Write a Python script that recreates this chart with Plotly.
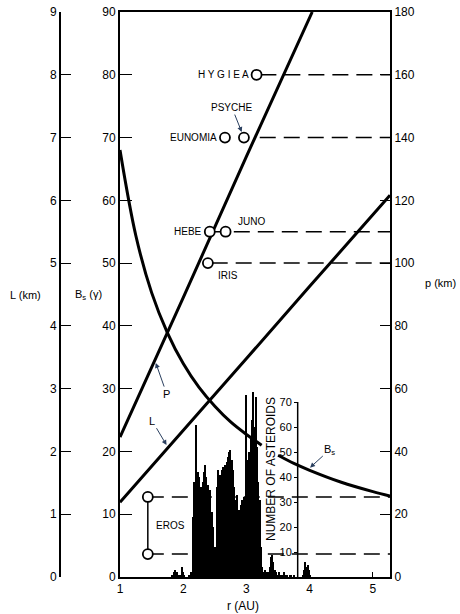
import plotly.graph_objects as go

# ---------------- data ----------------
r_P = [1.0, 2.0, 3.0, 4.04]
p_P = [44.6, 89.0, 134.0, 180.0]

r_L = [1.0, 2.0, 3.0, 4.0, 5.27]
L_vals = [1.19, 2.33, 3.48, 4.63, 6.08]

r_Bs = [1.0, 1.25, 1.5, 1.75, 2.0, 2.25, 2.5, 2.75, 3.0, 3.24, None, 3.5, 3.75, 4.0, 4.5, 5.0, 5.27]
Bs_vals = [68, 54.4, 45.3, 38.9, 34.0, 30.2, 27.2, 24.7, 22.7, 21.0, None, 19.4, 18.1, 17.0, 15.1, 13.6, 12.9]

ast_names = ["HYGIEA", "PSYCHE", "EUNOMIA", "HEBE", "JUNO", "IRIS"]
ast_r = [3.16, 2.96, 2.66, 2.42, 2.67, 2.39]
ast_p = [160, 140, 140, 110, 110, 100]

eros_r = [1.44, 1.44]
eros_p = [25.5, 7.3]

# dashed reference lines (start r, p value) to the right axis
dash_start = [3.22, 3.21, 2.42, 2.45, 1.44, 1.44]
dash_p = [160, 140, 110, 100, 25.5, 7.3]
r_max = 5.27

hist_r = [1.81, 1.83, 1.85, 1.87, 1.89, 1.91, 1.93, 1.95, 1.97, 1.99,
          2.01, 2.03, 2.05, 2.07, 2.09, 2.11, 2.13, 2.15, 2.17, 2.19,
          2.21, 2.23, 2.25, 2.27, 2.29, 2.31, 2.33, 2.35, 2.37, 2.39,
          2.41, 2.43, 2.45, 2.47, 2.49, 2.51, 2.53, 2.55, 2.57, 2.59,
          2.61, 2.63, 2.65, 2.67, 2.69, 2.71, 2.73, 2.75, 2.77, 2.79,
          2.81, 2.83, 2.85, 2.87, 2.89, 2.91, 2.93, 2.95, 2.97, 2.99,
          3.01, 3.03, 3.05, 3.07, 3.09, 3.11, 3.13, 3.15, 3.17, 3.19,
          3.21, 3.23, 3.25, 3.27, 3.29, 3.31, 3.33, 3.35, 3.37, 3.39,
          3.41, 3.43, 3.45, 3.47, 3.49, 3.51, 3.53, 3.55, 3.57, 3.59,
          3.61, 3.63, 3.65, 3.67, 3.69, 3.71, 3.73, 3.75, 3.77, 3.79,
          3.81, 3.83, 3.85, 3.87, 3.89, 3.91, 3.93, 3.95, 3.97, 3.99,
          4.01, 4.03]
hist_n = [0, 1, 2, 3, 2, 2, 1, 0, 1, 4,
          1, 0, 0, 0, 1, 0, 2, 24, 38, 34,
          61, 42, 40, 34, 36, 38, 42, 45, 40, 37,
          33, 35, 26, 20, 8, 12, 36, 43, 38, 41,
          43, 44, 42, 45, 46, 48, 50, 51, 47, 43,
          36, 31, 33, 22, 27, 29, 31, 12, 32, 73,
          47, 44, 50, 56, 63, 74, 60, 72, 52, 38,
          31, 12, 4, 2, 3, 2, 1, 2, 4, 8,
          9, 6, 3, 2, 1, 2, 1, 1, 1, 2,
          1, 1, 1, 0, 1, 1, 0, 1, 0, 0,
          0, 0, 0, 0, 1, 3, 6, 4, 5, 3,
          1, 0]
hist_axis_r = 3.81
hist_ticks = [10, 20, 30, 40, 50, 60, 70]

L_ticks = list(range(0, 10))
Bs_ticks = list(range(0, 100, 10))
p_ticks = list(range(0, 200, 20))
r_ticks = [1, 2, 3, 4, 5]

FONT = "Liberation Sans"
BLACK = "#000000"

fig = go.Figure()

# L line (on L axis)
fig.add_trace(go.Scatter(x=r_L, y=L_vals, mode="lines", yaxis="y2",
                         line=dict(color=BLACK, width=3), showlegend=False, hoverinfo="skip"))
# Bs curve
fig.add_trace(go.Scatter(x=r_Bs, y=Bs_vals, mode="lines", yaxis="y",
                         line=dict(color=BLACK, width=3, shape="spline"),
                         connectgaps=False, showlegend=False, hoverinfo="skip"))
# dashed lines (p axis)
for rs, pv in zip(dash_start, dash_p):
    fig.add_trace(go.Scatter(x=[rs, r_max], y=[pv, pv], mode="lines", yaxis="y3",
                             line=dict(color=BLACK, width=1.5, dash="16px,8px"),
                             showlegend=False, hoverinfo="skip"))
# P line
fig.add_trace(go.Scatter(x=r_P, y=p_P, mode="lines", yaxis="y3",
                         line=dict(color=BLACK, width=3), showlegend=False, hoverinfo="skip"))
# Eros
fig.add_trace(go.Scatter(x=eros_r, y=eros_p, mode="lines+markers", yaxis="y3",
                         line=dict(color=BLACK, width=1.5),
                         marker=dict(symbol="circle", size=10, color="white",
                                     line=dict(color=BLACK, width=1.8)),
                         showlegend=False, hoverinfo="skip"))
# asteroids
fig.add_trace(go.Scatter(x=ast_r, y=ast_p, mode="markers", yaxis="y3",
                         marker=dict(symbol="circle", size=10, color="white",
                                     line=dict(color=BLACK, width=1.8)),
                         showlegend=False, hoverinfo="skip"))
# histogram
fig.add_trace(go.Bar(x=hist_r, y=hist_n, yaxis="y4", width=0.021,
                     marker=dict(color=BLACK, line=dict(width=0)),
                     showlegend=False, hoverinfo="skip"))

tickfont = dict(family=FONT, size=12, color=BLACK)

fig.update_layout(
    width=460, height=614,
    margin=dict(l=60, r=70, t=12, b=37),
    paper_bgcolor="white", plot_bgcolor="white",
    bargap=0,
    xaxis=dict(domain=[60/330, 1], range=[1, 5.27], tickvals=r_ticks,
               ticks="inside", ticklen=5, tickwidth=1.2, tickcolor=BLACK,
               showline=True, linecolor=BLACK, linewidth=2, mirror=True,
               showgrid=False, zeroline=False, tickfont=tickfont, automargin=False),
    yaxis=dict(range=[0, 90], tickvals=Bs_ticks, ticks="inside", ticklen=12,
               tickwidth=1.2, tickcolor=BLACK, showline=True, linecolor=BLACK,
               linewidth=2, showgrid=False, zeroline=False, tickfont=tickfont,
               automargin=False, ticklabeloverflow="allow"),
    yaxis2=dict(range=[0, 9], tickvals=L_ticks, overlaying="y", anchor="free",
                position=0, side="left", ticks="inside", ticklen=10, tickwidth=1.2,
                tickcolor=BLACK, showline=True, linecolor=BLACK, linewidth=2,
                showgrid=False, zeroline=False, tickfont=tickfont, automargin=False,
                ticklabeloverflow="allow"),
    yaxis3=dict(range=[0, 180], tickvals=p_ticks, overlaying="y", anchor="x",
                side="right", ticks="inside", ticklen=10, tickwidth=1.2,
                tickcolor=BLACK, showline=True, linecolor=BLACK, linewidth=2,
                showgrid=False, zeroline=False, tickfont=tickfont, automargin=False,
                ticklabeloverflow="allow"),
    yaxis4=dict(range=[0, 226], tickvals=hist_ticks, overlaying="y", anchor="free",
                position=(298 - 60) / 330, side="left", ticks="outside", ticklen=4,
                tickwidth=1.2, tickcolor=BLACK, showline=False,
                showgrid=False, zeroline=False, automargin=False,
                tickfont=dict(family=FONT, size=11, color=BLACK)),
    shapes=[dict(type="line", xref="x", yref="y4", x0=hist_axis_r, x1=hist_axis_r,
                 y0=0, y1=hist_ticks[-1], line=dict(color=BLACK, width=1.5))],
)

ann_font = dict(family=FONT, size=10, color=BLACK)
ann = []
# asteroid labels
ann.append(dict(x=ast_r[0], y=ast_p[0], xref="x", yref="y3", text="H Y G I E A",
                showarrow=False, xanchor="right", xshift=-6, font=ann_font))
ann.append(dict(x=ast_r[2], y=ast_p[2], xref="x", yref="y3", text="EUNOMIA",
                showarrow=False, xanchor="right", xshift=-6, font=ann_font))
ann.append(dict(x=ast_r[1], y=ast_p[1], xref="x", yref="y3", text="PSYCHE",
                showarrow=True, ax=-12, ay=-30, arrowhead=2, arrowsize=1,
                arrowwidth=1, standoff=6, font=ann_font))
ann.append(dict(x=ast_r[3], y=ast_p[3], xref="x", yref="y3", text="HEBE",
                showarrow=False, xanchor="right", xshift=-6, font=ann_font))
ann.append(dict(x=ast_r[4], y=ast_p[4], xref="x", yref="y3", text="JUNO",
                showarrow=False, xanchor="left", xshift=10, yshift=10, font=ann_font))
ann.append(dict(x=ast_r[5], y=ast_p[5], xref="x", yref="y3", text="IRIS",
                showarrow=False, xanchor="left", xshift=8, yshift=-12, font=ann_font))
ann.append(dict(x=eros_r[0], y=(eros_p[0] + eros_p[1]) / 2, xref="x", yref="y3",
                text="EROS", showarrow=False, xanchor="left", xshift=6, font=ann_font))
# curve labels
ann.append(dict(x=1.55, y=69.1, xref="x", yref="y3", text="P", showarrow=True,
                ax=12, ay=34, arrowhead=2, arrowsize=1, arrowwidth=1, standoff=3,
                font=dict(family=FONT, size=11, color=BLACK)))
ann.append(dict(x=1.76, y=2.06, xref="x", yref="y2", text="L", showarrow=True,
                ax=-16, ay=-27, arrowhead=2, arrowsize=1, arrowwidth=1, standoff=3,
                font=dict(family=FONT, size=11, color=BLACK)))
ann.append(dict(x=3.97, y=17.1, xref="x", yref="y", text="B<sub>s</sub>", showarrow=True,
                ax=22, ay=-20, arrowhead=2, arrowsize=1, arrowwidth=1, standoff=3,
                font=dict(family=FONT, size=11, color=BLACK)))


def px_to_paper(px, py):
    return (px - 120 + 60) / 330, (577 - py) / 565


for text, px, py, size, angle in [
    ("L (km)", 25, 295, 11, 0),
    ("B<sub>s</sub> (γ)", 88, 295, 11, 0),
    ("p (km)", 440, 283, 11, 0),
    ("r (AU)", 243, 606, 12, 0),
    ("NUMBER OF ASTEROIDS", 271, 469, 12, -90),
]:
    xp, yp = px_to_paper(px, py)
    ann.append(dict(x=xp, y=yp, xref="paper", yref="paper", text=text,
                    textangle=angle, showarrow=False, xanchor="center",
                    yanchor="middle", font=dict(family=FONT, size=size, color=BLACK)))
fig.update_layout(annotations=ann)

fig.write_html("out.html", config={"displayModeBar": False},
               post_script="document.body.style.margin='0';document.body.style.overflow='hidden';")
